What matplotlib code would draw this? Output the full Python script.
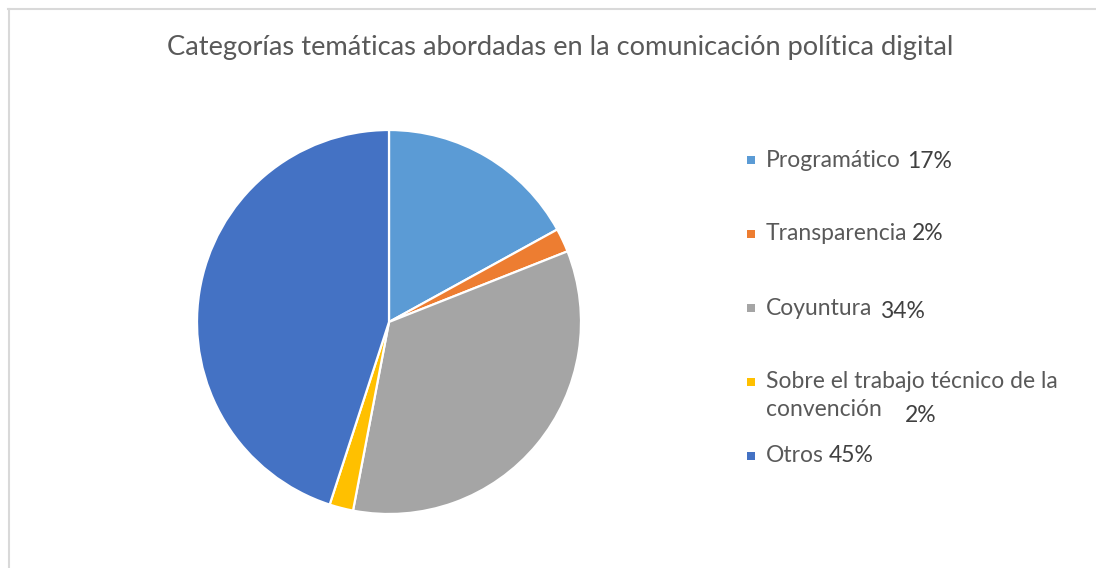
import matplotlib
matplotlib.use("Agg")
import matplotlib.pyplot as plt
from matplotlib.patches import Rectangle
from matplotlib.lines import Line2D

categories = ["Programático", "Transparencia", "Coyuntura",
              "Sobre el trabajo técnico de la\nconvención", "Otros"]
values = [17, 2, 34, 2, 45]
pct_labels = ["17%", "2%", "34%", "2%", "45%"]
colors = ["#5B9BD5", "#ED7D31", "#A5A5A5", "#FFC000", "#4472C4"]
title = "Categorías temáticas abordadas en la comunicación política digital"

W, H = 1096, 568
fig = plt.figure(figsize=(W / 100, H / 100), dpi=100)
plt.rcParams['font.family'] = ['Lato', 'DejaVu Sans']

def fx(x):
    return x / W

def fy(y):
    return 1 - y / H

# chart frame (left and top visible)
fig.add_artist(Line2D([fx(8.5), fx(8.5)], [fy(9), 0], color="#D9D9D9", lw=1.5))
fig.add_artist(Line2D([fx(8), 1], [fy(9), fy(9)], color="#D9D9D9", lw=1.5))

cx, cy, r = 389, 322, 192
ax = fig.add_axes([fx(cx - r), fy(cy + r), 2 * r / W, 2 * r / H])
ax.pie(values, colors=colors, startangle=90, counterclock=False,
       wedgeprops=dict(edgecolor="white", linewidth=1.6))
ax.set_xlim(-1, 1)
ax.set_ylim(-1, 1)
ax.set_aspect('auto')
ax.axis('off')

fig.text(fx(560), fy(48), title, ha="center", va="center",
         fontsize=19.6, color="#595959")

# legend with data labels
label_y = [160, 234, 308, 382, 456]
line_gap = 28
pct_pos = [(930, 161), (928, 234), (902, 312), (921, 415), (851, 456)]
for i, cat in enumerate(categories):
    y = label_y[i]
    fig.add_artist(Rectangle((fx(747), fy(y + 4)), 8 / W, 8 / H,
                             facecolor=colors[i], edgecolor="none",
                             transform=fig.transFigure))
    for j, line in enumerate(cat.split("\n")):
        fig.text(fx(766), fy(y + j * line_gap), line, ha="left", va="center",
                 fontsize=16.5, color="#595959")
    px, py = pct_pos[i]
    fig.text(fx(px), fy(py), pct_labels[i], ha="center", va="center",
             fontsize=16.5, color="#404040")

fig.savefig("out.png", dpi=100)
